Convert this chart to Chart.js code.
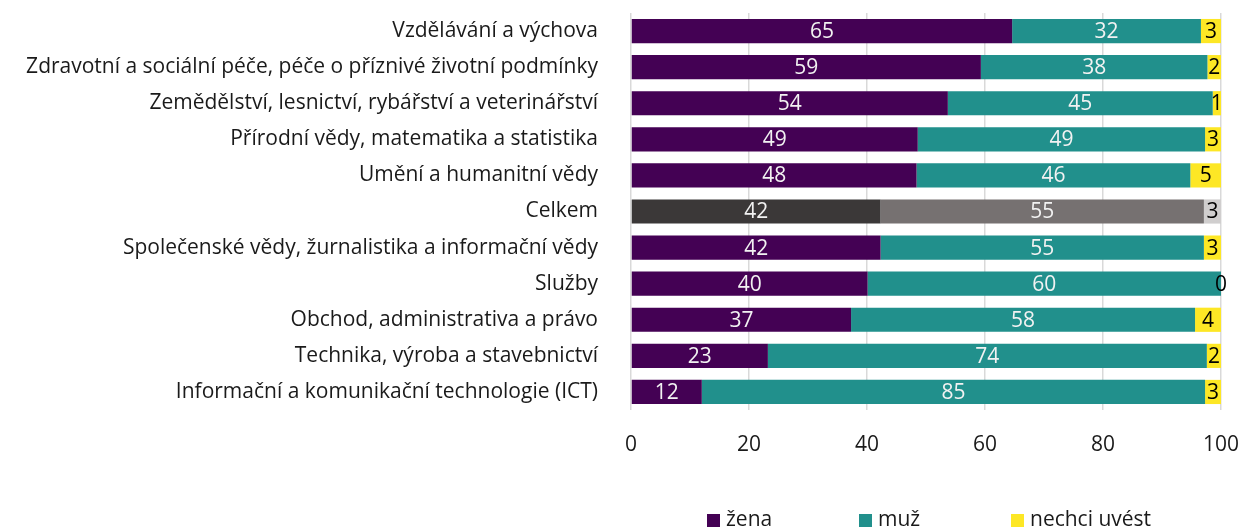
<!DOCTYPE html>
<html>
<head>
<meta charset="utf-8">
<script src="https://cdn.jsdelivr.net/npm/chart.js"></script>
<style>
  html, body { margin: 0; padding: 0; background: #fff; }
  #wrap { width: 1242px; height: 530px; }
</style>
</head>
<body>
<div id="wrap"><canvas id="chart" width="1242" height="530"></canvas></div>
<script>
  // Categories (top to bottom)
  const categories = [
    'Vzdělávání a výchova',
    'Zdravotní a sociální péče, péče o příznivé životní podmínky',
    'Zemědělství, lesnictví, rybářství a veterinářství',
    'Přírodní vědy, matematika a statistika',
    'Umění a humanitní vědy',
    'Celkem',
    'Společenské vědy, žurnalistika a informační vědy',
    'Služby',
    'Obchod, administrativa a právo',
    'Technika, výroba a stavebnictví',
    'Informační a komunikační technologie (ICT)'
  ];

  // Shares in % (labels show rounded values)
  const zena   = [64.6, 59.3, 53.7, 48.6, 48.4, 42.3, 42.3, 40.1, 37.3, 23.2, 12.0];
  const muz    = [32.0, 38.4, 44.9, 48.7, 46.4, 54.8, 54.8, 59.9, 58.3, 74.4, 85.3];
  const nechci = [3.4, 2.3, 1.4, 2.7, 5.2, 2.9, 2.9, 0.0, 4.4, 2.4, 2.7];

  const xTicks = [0, 20, 40, 60, 80, 100];
  const totalIndex = categories.indexOf('Celkem');
  const FONT = '"Open Sans", "Liberation Sans", sans-serif';

  function colorFor(normal, total) {
    return ctx => ctx.dataIndex === totalIndex ? total : normal;
  }

  // draws the rounded values in the middle of each segment
  const valueLabels = {
    id: 'valueLabels',
    afterDatasetsDraw(chart) {
      const c = chart.ctx;
      c.save();
      c.font = '21px ' + FONT;
      c.textAlign = 'center';
      c.textBaseline = 'middle';
      chart.data.datasets.forEach((ds, i) => {
        const meta = chart.getDatasetMeta(i);
        meta.data.forEach((bar, j) => {
          const p = bar.getProps(['x', 'y', 'base'], true);
          c.fillStyle = ds.labelColor;
          c.fillText(Math.round(ds.data[j]), (p.x + p.base) / 2, p.y + 1);
        });
      });
      c.restore();
    }
  };

  // Excel-like legend: equal slots, centred under the plot area
  const bottomLegend = {
    id: 'bottomLegend',
    afterDraw(chart) {
      const c = chart.ctx;
      const area = chart.chartArea;
      const slot = 152;
      const x0 = (area.left + area.right) / 2 - 219;
      const y = 520;
      c.save();
      c.font = '21px ' + FONT;
      c.textBaseline = 'middle';
      c.textAlign = 'left';
      chart.data.datasets.forEach((ds, i) => {
        const x = x0 + i * slot;
        c.fillStyle = ds.legendColor;
        c.fillRect(x, y - 6, 13, 13);
        c.fillStyle = '#1a1a1a';
        c.fillText(ds.label, x + 19, y);
      });
      c.restore();
    }
  };

  new Chart(document.getElementById('chart'), {
    type: 'bar',
    data: {
      labels: categories,
      datasets: [
        { label: 'žena', data: zena, backgroundColor: colorFor('#440154', '#3b3838'), legendColor: '#440154', labelColor: '#f2f2f2' },
        { label: 'muž', data: muz, backgroundColor: colorFor('#21908c', '#767171'), legendColor: '#21908c', labelColor: '#f2f2f2' },
        { label: 'nechci uvést', data: nechci, backgroundColor: colorFor('#fde725', '#d0cece'), legendColor: '#fde725', labelColor: '#000000' }
      ]
    },
    options: {
      indexAxis: 'y',
      responsive: false,
      animation: false,
      layout: { padding: { top: 13, right: 21, left: 0, bottom: 40 } },
      datasets: { bar: { barPercentage: 0.67, categoryPercentage: 1 } },
      scales: {
        x: {
          stacked: true,
          min: 0,
          max: 100,
          afterBuildTicks: scale => { scale.ticks = xTicks.map(v => ({ value: v })); },
          afterFit: scale => {
            scale.height = 80;
            scale.paddingLeft = 0;
            scale.paddingRight = 0;
          },
          grid: { color: '#d9d9d9', lineWidth: 1.5, drawTicks: false },
          border: { display: false },
          ticks: { padding: 22, color: '#1a1a1a', font: { family: FONT, size: 21 } }
        },
        y: {
          stacked: true,
          afterFit: scale => {
            scale.width = 631;
            scale.paddingTop = 0;
            scale.paddingBottom = 0;
          },
          grid: { display: false },
          border: { display: false },
          ticks: { autoSkip: false, padding: 25, color: '#1a1a1a', font: { family: FONT, size: 21 } }
        }
      },
      plugins: {
        legend: { display: false },
        tooltip: { enabled: false }
      }
    },
    plugins: [valueLabels, bottomLegend]
  });
</script>
</body>
</html>
